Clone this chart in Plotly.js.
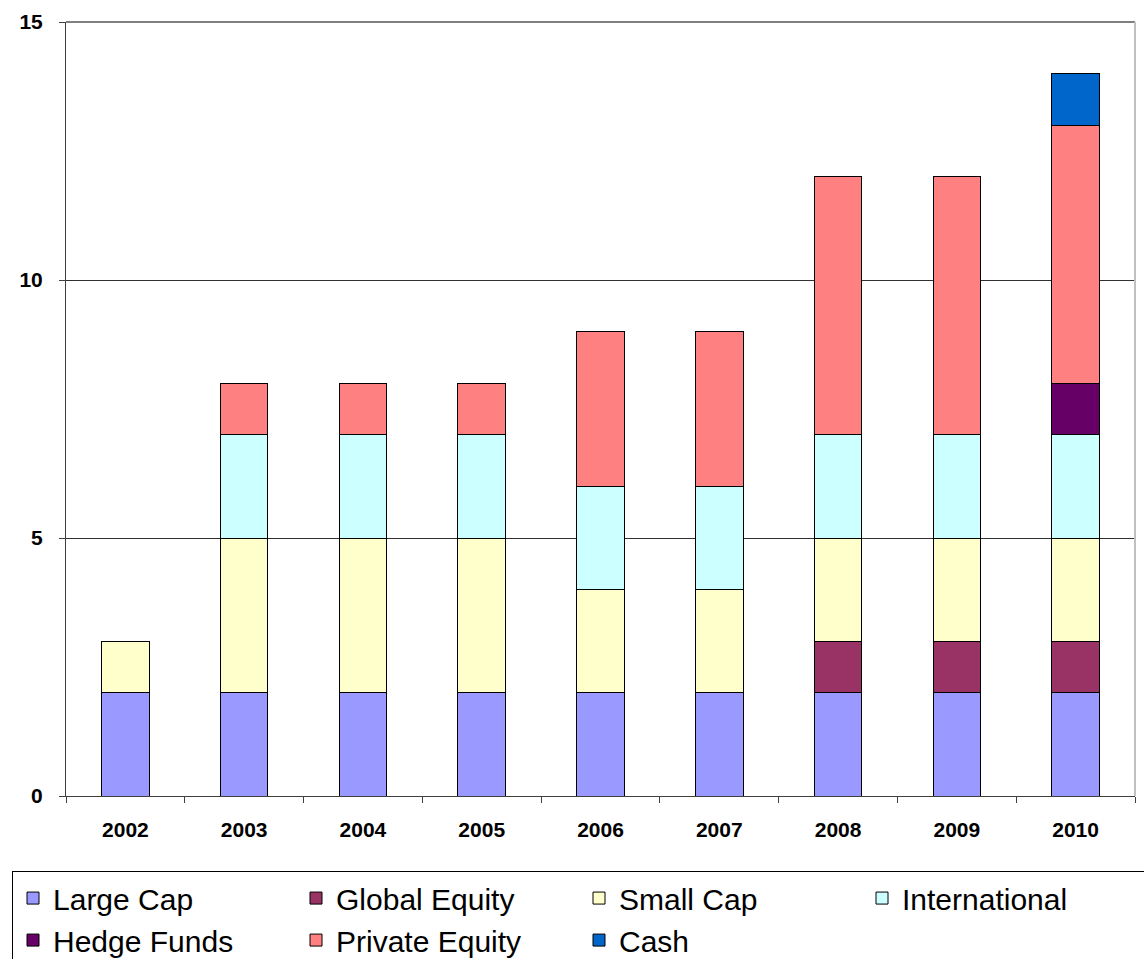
<!DOCTYPE html>
<html>
<head>
<meta charset="utf-8">
<script src="https://cdn.plot.ly/plotly-3.0.1.min.js"></script>
<style>html,body{margin:0;padding:0;background:#fff;}#chart{width:1144px;height:959px;}</style>
</head>
<body>
<div id="chart"></div>
<script>
const years = ['2002','2003','2004','2005','2006','2007','2008','2009','2010'];
const largeCap      = [2, 2, 2, 2, 2, 2, 2, 2, 2];
const globalEquity  = [0, 0, 0, 0, 0, 0, 1, 1, 1];
const smallCap      = [1, 3, 3, 3, 2, 2, 2, 2, 2];
const international = [0, 2, 2, 2, 2, 2, 2, 2, 2];
const hedgeFunds    = [0, 0, 0, 0, 0, 0, 0, 0, 1];
const privateEquity = [0, 1, 1, 1, 3, 3, 5, 5, 5];
const cash          = [0, 0, 0, 0, 0, 0, 0, 0, 1];
const yTicks = [0, 5, 10, 15];

const seriesNames = ['Large Cap','Global Equity','Small Cap','International','Hedge Funds','Private Equity','Cash'];
const seriesValues = [largeCap, globalEquity, smallCap, international, hedgeFunds, privateEquity, cash];
const seriesColors = ['#9999FF','#993366','#FFFFCC','#CCFFFF','#660066','#FF8080','#0066CC'];

const traces = seriesNames.map((name, i) => ({
  type: 'bar',
  name: name,
  x: years,
  y: seriesValues[i],
  marker: {color: seriesColors[i], line: {color: '#000000', width: 1}},
  hoverinfo: 'skip'
}));

const layout = {
  width: 1144, height: 959,
  margin: {l: 66, r: 9, t: 22, b: 163, autoexpand: false},
  barmode: 'stack',
  bargap: 0.6,
  paper_bgcolor: '#ffffff',
  plot_bgcolor: '#ffffff',
  font: {family: 'Liberation Sans, Arial, sans-serif', color: '#000000'},
  showlegend: true,
  legend: {
    orientation: 'h',
    traceorder: 'normal',
    x: -0.0505, xanchor: 'left',
    y: -0.097, yanchor: 'top',
    bordercolor: '#000000', borderwidth: 1,
    bgcolor: '#ffffff',
    font: {size: 30, family: 'Liberation Sans, Arial, sans-serif', color: '#000000'},
    entrywidth: 238, entrywidthmode: 'pixels'
  },
  xaxis: {
    type: 'category',
    showgrid: false,
    showline: true, linecolor: '#404040', linewidth: 1,
    ticks: 'outside', tickson: 'boundaries', ticklen: 6, tickcolor: '#404040',
    tickfont: {size: 21, family: 'Liberation Sans, Arial, sans-serif', weight: 'bold', color: '#000000'},
    ticklabelstandoff: 15,
    zeroline: false
  },
  yaxis: {
    range: [0, 15],
    tickvals: yTicks,
    ticktext: yTicks.map(String),
    showgrid: true, gridcolor: '#303030', gridwidth: 1,
    showline: true, linecolor: '#404040', linewidth: 1,
    ticks: 'outside', ticklen: 6, tickcolor: '#404040',
    tickfont: {size: 21, family: 'Liberation Sans, Arial, sans-serif', weight: 'bold', color: '#000000'},
    ticklabelstandoff: 12,
    zeroline: false
  },
  shapes: [
    {type: 'line', xref: 'paper', yref: 'paper', x0: 0, x1: 1, y0: 1, y1: 1, line: {color: '#808080', width: 2}},
    {type: 'line', xref: 'paper', yref: 'paper', x0: 1, x1: 1, y0: 0, y1: 1, line: {color: '#C0C0C0', width: 2}}
  ]
};

Plotly.newPlot('chart', traces, layout, {displayModeBar: false, staticPlot: true});
</script>
</body>
</html>
